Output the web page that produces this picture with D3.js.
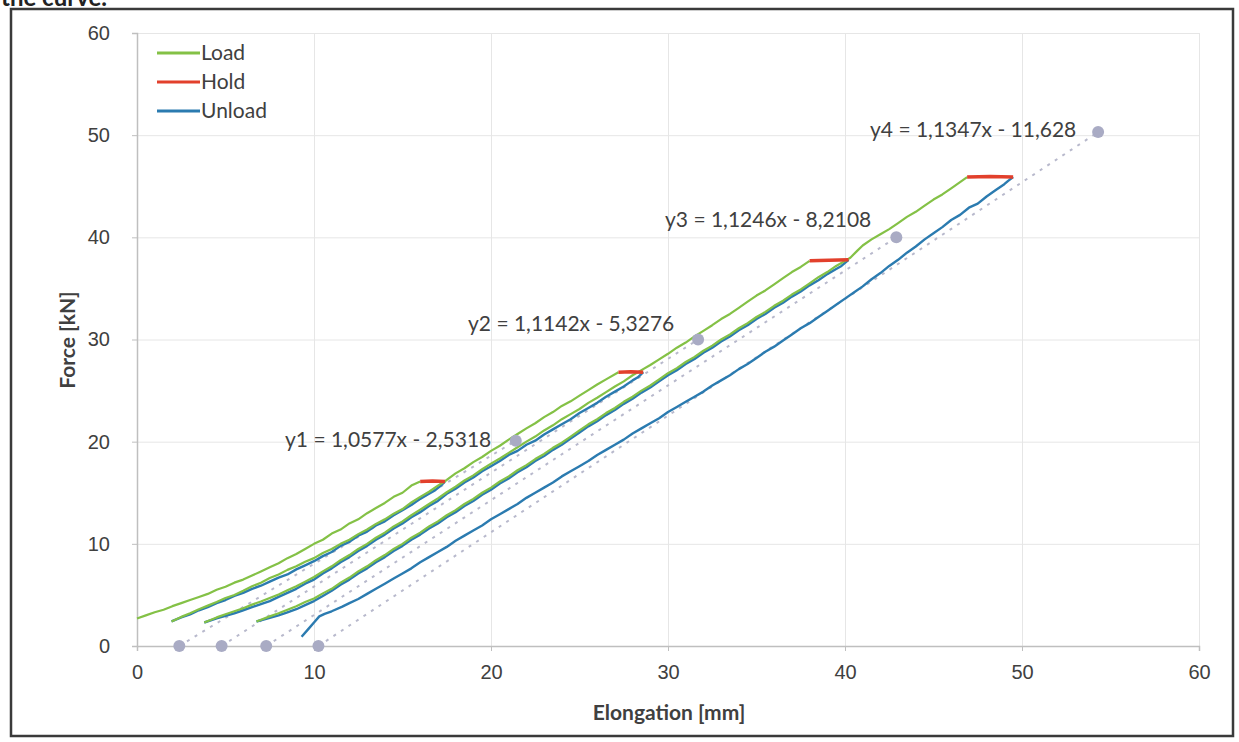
<!DOCTYPE html>
<html>
<head>
<meta charset="utf-8">
<script src="https://cdn.jsdelivr.net/npm/d3@7"></script>
<style>
  body { margin: 0; background: #fff; }
  svg { display: block; font-family: Lato, "Open Sans", sans-serif; }
  .tick text { fill: #404040; font-size: 20px; }
  .grid line { stroke: #e6e6e6; }
  .grid .domain { display: none; }
  .axis .domain { stroke: #bfbfbf; stroke-width: 1.5; }
  .axis .tick line { stroke: #bfbfbf; }
  .title { font-weight: bold; font-size: 21px; fill: #404040; }
  .eq { font-size: 21px; fill: #404040; }
  .legend text { font-size: 21px; fill: #404040; }
</style>
</head>
<body>
<svg width="1239" height="742"></svg>
<script>
var xTicks = [0, 10, 20, 30, 40, 50, 60];
var yTicks = [0, 10, 20, 30, 40, 50, 60];

var load1 = [[0,2.7],[0.5,3.0],[1,3.3],[1.5,3.55],[2,3.9],[2.5,4.2],[3,4.5],[3.5,4.8],[4,5.1],[4.5,5.5],[5,5.8],[5.5,6.2],[6,6.5],[6.5,6.9],[7,7.3],[7.5,7.7],[8,8.1],[8.5,8.6],[9,9.0],[9.5,9.5],[10,10.0],[10.5,10.4],[11,11.0],[11.5,11.4],[12,12.0],[12.5,12.4],[13,13.0],[13.5,13.5],[14,14.0],[14.5,14.6],[15,15.0],[15.5,15.7],[16,16.1]];
var load2 = [[1.95,2.4],[2.5,2.85],[3,3.2],[3.5,3.6],[4,3.95],[4.5,4.3],[5,4.7],[5.5,5.0],[6,5.4],[6.5,5.85],[7,6.2],[7.5,6.65],[8,7.0],[8.5,7.45],[9,7.8],[9.5,8.25],[10,8.6],[10.5,9.1],[11,9.5],[11.5,10.0],[12,10.4],[12.5,10.95],[13,11.4],[13.5,11.95],[14,12.4],[14.5,12.95],[15,13.4],[15.5,14.05],[16,14.6],[16.5,15.1],[17,15.7],[17.5,16.25],[18,16.9],[18.5,17.4],[19,18.0],[19.5,18.5],[20,19.1],[20.5,19.6],[21,20.2],[21.5,20.75],[22,21.3],[22.5,21.8],[23,22.4],[23.5,22.9],[24,23.5],[24.5,23.95],[25,24.5],[25.5,25.05],[26,25.6],[26.5,26.1],[27.2,26.8]];
var load3 = [[3.8,2.3],[4.5,2.8],[5,3.1],[5.5,3.4],[6,3.7],[6.5,4.05],[7,4.35],[7.5,4.7],[8,5.05],[8.5,5.45],[9,5.85],[9.5,6.3],[10,6.75],[10.5,7.3],[11,7.8],[11.5,8.4],[12,8.9],[12.5,9.5],[13,10.0],[13.5,10.6],[14,11.1],[14.5,11.7],[15,12.2],[15.5,12.8],[16,13.35],[16.5,13.9],[17,14.45],[17.5,15.05],[18,15.6],[18.5,16.2],[19,16.7],[19.5,17.3],[20,17.85],[20.5,18.35],[21,18.9],[21.5,19.45],[22,20.0],[22.5,20.5],[23,21.1],[23.5,21.6],[24,22.2],[24.5,22.7],[25,23.2],[25.5,23.8],[26,24.3],[26.5,24.85],[27,25.4],[27.5,25.9],[28,26.5],[28.5,27.0],[29,27.5],[29.5,28.05],[30,28.6],[30.5,29.2],[31,29.7],[31.5,30.3],[32,30.85],[32.5,31.4],[33,32.0],[33.5,32.5],[34,33.1],[34.5,33.7],[35,34.3],[35.5,34.8],[36,35.4],[36.5,36.0],[37,36.6],[37.5,37.1],[38,37.7]];
var load4 = [[6.75,2.4],[7.5,2.9],[8,3.2],[8.5,3.55],[9,3.9],[9.5,4.3],[10,4.65],[10.5,5.15],[11,5.6],[11.5,6.2],[12,6.7],[12.5,7.3],[13,7.8],[13.5,8.4],[14,8.9],[14.5,9.5],[15,10.0],[15.5,10.6],[16,11.1],[16.5,11.7],[17,12.2],[17.5,12.8],[18,13.3],[18.5,13.9],[19,14.4],[19.5,15.0],[20,15.5],[20.5,16.1],[21,16.6],[21.5,17.2],[22,17.7],[22.5,18.3],[23,18.8],[23.5,19.4],[24,19.9],[24.5,20.5],[25,21.1],[25.5,21.7],[26,22.2],[26.5,22.8],[27,23.3],[27.5,23.9],[28,24.4],[28.5,25.0],[29,25.5],[29.5,26.1],[30,26.7],[30.5,27.2],[31,27.8],[31.5,28.3],[32,28.9],[32.5,29.4],[33,30.0],[33.5,30.5],[34,31.1],[34.5,31.6],[35,32.2],[35.5,32.7],[36,33.3],[36.5,33.8],[37,34.4],[37.5,34.9],[38,35.5],[38.5,36.1],[39,36.6],[39.5,37.2],[40,37.7],[40.3,38.0],[40.7,38.7],[41,39.2],[41.5,39.8],[42,40.3],[42.5,40.8],[43,41.4],[43.5,42.0],[44,42.5],[44.5,43.1],[45,43.7],[45.5,44.2],[46,44.8],[46.5,45.4],[46.9,45.9]];

var hold1 = [[16,16.1],[16.7,16.15],[17.4,16.1]];
var hold2 = [[27.2,26.8],[27.9,26.85],[28.6,26.8]];
var hold3 = [[38,37.7],[39.1,37.75],[40.2,37.8]];
var hold4 = [[46.9,45.9],[48.2,45.95],[49.5,45.9]];

var unload1 = [[17.4,16.1],[17.1,15.6],[16.8,15.2],[16.4,14.8],[16,14.4],[15.5,13.8],[15,13.3],[14.5,12.8],[14,12.2],[13.5,11.8],[13,11.2],[12.5,10.8],[12,10.2],[11.5,9.8],[11,9.2],[10.5,8.8],[10,8.3],[9.5,7.9],[9,7.5],[8.5,7.0],[8,6.7],[7.5,6.3],[7,5.9],[6.5,5.6],[6,5.2],[5.5,4.9],[5,4.5],[4.5,4.2],[4,3.8],[3.5,3.5],[3,3.1],[2.5,2.8],[1.95,2.4]];
var unload2 = [[28.6,26.8],[28.3,26.3],[28,26.0],[27.5,25.4],[27,24.9],[26.5,24.4],[26,23.8],[25.5,23.3],[25,22.8],[24.5,22.2],[24,21.7],[23.5,21.2],[23,20.7],[22.5,20.1],[22,19.7],[21.5,19.1],[21,18.7],[20.5,18.1],[20,17.6],[19.5,17.1],[19,16.5],[18.5,16.0],[18,15.4],[17.5,14.9],[17,14.2],[16.5,13.7],[16,13.1],[15.5,12.6],[15,12.0],[14.5,11.5],[14,10.9],[13.5,10.4],[13,9.8],[12.5,9.3],[12,8.7],[11.5,8.2],[11,7.6],[10.5,7.1],[10,6.5],[9.5,6.1],[9,5.6],[8.5,5.2],[8,4.8],[7.5,4.4],[7,4.1],[6.5,3.8],[6,3.5],[5.5,3.2],[5,2.95],[4.5,2.7],[3.8,2.3]];
var unload3 = [[40.2,37.8],[39.8,37.2],[39.5,36.9],[39,36.4],[38.5,35.8],[38,35.3],[37.5,34.7],[37,34.2],[36.5,33.6],[36,33.1],[35.5,32.5],[35,32.0],[34.5,31.4],[34,30.9],[33.5,30.3],[33,29.8],[32.5,29.2],[32,28.7],[31.5,28.1],[31,27.6],[30.5,27.0],[30,26.5],[29.5,25.9],[29,25.3],[28.5,24.8],[28,24.2],[27.5,23.7],[27,23.1],[26.5,22.6],[26,22.0],[25.5,21.5],[25,20.9],[24.5,20.3],[24,19.7],[23.5,19.2],[23,18.6],[22.5,18.1],[22,17.5],[21.5,17.0],[21,16.4],[20.5,15.9],[20,15.3],[19.5,14.8],[19,14.2],[18.5,13.7],[18,13.1],[17.5,12.6],[17,12.0],[16.5,11.5],[16,10.9],[15.5,10.4],[15,9.8],[14.5,9.3],[14,8.7],[13.5,8.2],[13,7.6],[12.5,7.1],[12,6.5],[11.5,6.0],[11,5.4],[10.5,4.9],[10,4.4],[9.5,4.0],[9,3.6],[8.5,3.3],[8,3.0],[7.5,2.75],[6.75,2.4]];
var unload4 = [[49.5,45.9],[49.2,45.5],[49,45.2],[48.5,44.6],[48,44.0],[47.5,43.3],[47,42.9],[46.5,42.2],[46,41.7],[45.5,41.0],[45,40.4],[44.5,39.8],[44,39.1],[43.5,38.5],[43,37.8],[42.5,37.2],[42,36.5],[41.5,35.9],[41,35.2],[40.5,34.6],[40,34.0],[39.5,33.4],[39,32.8],[38.5,32.2],[38,31.6],[37.5,31.1],[37,30.5],[36.5,29.9],[36,29.3],[35.5,28.8],[35,28.2],[34.5,27.6],[34,27.1],[33.5,26.5],[33,26.0],[32.5,25.5],[32,24.9],[31.5,24.4],[31,23.9],[30.5,23.4],[30,22.9],[29.5,22.3],[29,21.8],[28.5,21.3],[28,20.8],[27.5,20.2],[27,19.7],[26.5,19.2],[26,18.7],[25.5,18.1],[25,17.6],[24.5,17.1],[24,16.6],[23.5,16.0],[23,15.5],[22.5,15.0],[22,14.5],[21.5,13.9],[21,13.4],[20.5,12.9],[20,12.4],[19.5,11.8],[19,11.3],[18.5,10.8],[18,10.3],[17.5,9.7],[17,9.2],[16.5,8.7],[16,8.2],[15.5,7.6],[15,7.1],[14.5,6.6],[14,6.1],[13.5,5.6],[13,5.1],[12.5,4.6],[12,4.2],[11.6,3.85],[11,3.4],[10.6,3.15],[10.3,2.9],[10.0,2.3],[9.7,1.7],[9.3,0.9]];

// fit points (grey dots) and their trend lines
var fitPoints = [
  [[2.39,0],[21.4,20.1]],
  [[4.78,0],[31.7,30.0]],
  [[7.30,0],[42.9,40.0]],
  [[10.25,0],[54.3,50.3]]
];
var equations = ["y1 = 1,0577x - 2,5318", "y2 = 1,1142x - 5,3276", "y3 = 1,1246x - 8,2108", "y4 = 1,1347x - 11,628"];
var legendNames = ["Load", "Hold", "Unload"];

// layout
var colors = {Load: "#84c146", Hold: "#e2402c", Unload: "#2b7bb0"};
var eqPos = [[285, 440], [468, 324], [665, 220], [870, 130]];

var svg = d3.select("svg");
var pArea = [137, 33, 1199, 646];

var xScale = d3.scaleLinear().domain([0, 60]).range([pArea[0], pArea[2]]);
var yScale = d3.scaleLinear().domain([0, 60]).range([pArea[3], pArea[1]]);

// caption cut off at the top
svg.append("text")
  .attr("x", 1).attr("y", 6)
  .style("font-size", "24px").style("font-weight", "bold").style("fill", "#222")
  .text("the curve.");

// frame
svg.append("rect")
  .attr("x", 11).attr("y", 9)
  .attr("width", 1222).attr("height", 727)
  .attr("fill", "none")
  .attr("stroke", "#3a3a3a")
  .attr("stroke-width", 2.5);

// grid
svg.append("g")
  .attr("class", "grid")
  .attr("transform", `translate(0,${pArea[3]})`)
  .call(d3.axisBottom(xScale).tickValues(xTicks).tickSize(-(pArea[3] - pArea[1])).tickFormat(""));
svg.append("g")
  .attr("class", "grid")
  .attr("transform", `translate(${pArea[0]},0)`)
  .call(d3.axisLeft(yScale).tickValues(yTicks).tickSize(-(pArea[2] - pArea[0])).tickFormat(""));

// axes
svg.append("g")
  .attr("class", "axis")
  .attr("transform", `translate(0,${pArea[3]})`)
  .call(d3.axisBottom(xScale).tickValues(xTicks).tickSize(5).tickPadding(14).tickFormat(d3.format("d")));
svg.append("g")
  .attr("class", "axis")
  .attr("transform", `translate(${pArea[0]},0)`)
  .call(d3.axisLeft(yScale).tickValues(yTicks).tickSize(5).tickPadding(22).tickFormat(d3.format("d")));

svg.append("text")
  .attr("class", "title")
  .attr("transform", "rotate(-90)")
  .attr("x", -340).attr("y", 75)
  .attr("text-anchor", "middle")
  .text("Force [kN]");
svg.append("text")
  .attr("class", "title")
  .attr("x", 669).attr("y", 720)
  .attr("text-anchor", "middle")
  .text("Elongation [mm]");

var line = d3.line()
  .x(d => xScale(d[0]))
  .y(d => yScale(d[1]));

// trend lines
svg.selectAll(".trend")
  .data(fitPoints)
  .enter().append("path")
  .attr("class", "trend")
  .attr("d", line)
  .attr("fill", "none")
  .attr("stroke", "#b8b9cc")
  .attr("stroke-width", 2)
  .attr("stroke-dasharray", "3,6");

// curves
var unloads = [unload1, unload2, unload3, unload4];
var loads = [load1, load2, load3, load4];
var holds = [hold1, hold2, hold3, hold4];

function drawSet(sets, color, width) {
  sets.forEach(function(s) {
    svg.append("path")
      .datum(s)
      .attr("d", line)
      .attr("fill", "none")
      .attr("stroke", color)
      .attr("stroke-width", width)
      .attr("stroke-linejoin", "round");
  });
}
drawSet(unloads, colors.Unload, 2.4);
drawSet(loads, colors.Load, 2.2);
drawSet(holds, colors.Hold, 3.5);

// grey fit dots
svg.selectAll(".dot")
  .data(fitPoints.flat())
  .enter().append("circle")
  .attr("class", "dot")
  .attr("cx", d => xScale(d[0]))
  .attr("cy", d => yScale(d[1]))
  .attr("r", 6)
  .attr("fill", "#a9abc4");

// equation labels
svg.selectAll(".eq")
  .data(equations)
  .enter().append("text")
  .attr("class", "eq")
  .attr("x", (d, i) => eqPos[i][0])
  .attr("y", (d, i) => eqPos[i][1])
  .attr("dy", "0.35em")
  .text(d => d);

// legend
var leg = svg.append("g").attr("class", "legend");
legendNames.forEach(function(name, i) {
  var yy = 53 + i * 29;
  leg.append("line")
    .attr("x1", 157).attr("x2", 200)
    .attr("y1", yy).attr("y2", yy)
    .attr("stroke", colors[name])
    .attr("stroke-width", 3);
  leg.append("text")
    .attr("x", 201).attr("y", yy)
    .attr("dy", "0.35em")
    .text(name);
});
</script>
</body>
</html>
